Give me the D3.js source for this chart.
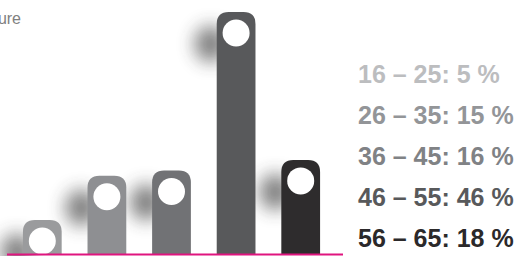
<!DOCTYPE html>
<html>
<head>
<meta charset="utf-8">
<script src="https://cdn.jsdelivr.net/npm/d3@7/dist/d3.min.js"></script>
<style>
  html, body { margin: 0; padding: 0; background: #fff; }
  svg { display: block; }
</style>
</head>
<body>
<div id="chart"></div>
<script>
'use strict';

// age groups and shares (%)
var ageGroups = ['16 – 25', '26 – 35', '36 – 45', '46 – 55', '56 – 65'];
var shares = [5, 15, 16, 46, 18];
var barColors = ['#9a9b9d', '#8e8f92', '#717275', '#58595b', '#2e2c2d'];
var labelColors = ['#bcbdbf', '#939598', '#808285', '#58595b', '#2b292a'];
var title = 'Age structure';

var width = 520, height = 256,
    baseY = 255, minBarHeight = 35, cornerR = 12, holeR = 13.5;

var svg = d3.select('#chart')
    .append('svg')
    .attr('width', width)
    .attr('height', height);

var defs = svg.append('defs');
defs.append('filter')
    .attr('id', 'blur')
    .attr('x', '-100%').attr('y', '-100%')
    .attr('width', '300%').attr('height', '300%')
    .append('feGaussianBlur')
    .attr('stdDeviation', 9);

var data = ageGroups.map(function (g, i) {
    return {group: g, value: shares[i], color: barColors[i], labelColor: labelColors[i]};
});

var x = d3.scaleBand()
    .domain(ageGroups)
    .range([10, 333])
    .paddingInner(0.4)
    .paddingOuter(0.2);

var y = d3.scaleLinear()
    .domain([0, d3.max(shares)])
    .range([baseY, 12]);

function barTop(d) {
    return Math.min(y(d.value), baseY - minBarHeight);
}

function barPath(d) {
    var x0 = x(d.group), w = x.bandwidth(), t = barTop(d), r = cornerR;
    return 'M' + x0 + ',' + baseY +
        'V' + (t + r) +
        'Q' + x0 + ',' + t + ' ' + (x0 + r) + ',' + t +
        'H' + (x0 + w - r) +
        'Q' + (x0 + w) + ',' + t + ' ' + (x0 + w) + ',' + (t + r) +
        'V' + baseY + 'Z';
}

// title (cut off at the left edge, as in the source)
svg.append('text')
    .attr('x', 21)
    .attr('y', 24)
    .attr('text-anchor', 'end')
    .attr('font-family', 'Liberation Sans, Arial, sans-serif')
    .attr('font-size', 16)
    .attr('fill', '#808080')
    .text(title);

// soft shadows behind bar tops
svg.append('g')
    .selectAll('ellipse')
    .data(data)
    .enter().append('ellipse')
    .attr('cx', function (d) { return x(d.group) - 6; })
    .attr('cy', function (d) { return barTop(d) + 32; })
    .attr('rx', 16)
    .attr('ry', 18)
    .attr('fill', '#3a3a3a')
    .attr('opacity', 0.65)
    .attr('filter', 'url(#blur)');

var bars = svg.append('g')
    .selectAll('g')
    .data(data)
    .enter().append('g');

bars.append('path')
    .attr('d', barPath)
    .attr('fill', function (d) { return d.color; });

bars.append('circle')
    .attr('cx', function (d) { return x(d.group) + x.bandwidth() / 2; })
    .attr('cy', function (d) { return barTop(d) + 21; })
    .attr('r', holeR)
    .attr('fill', '#fff');

// baseline
svg.append('line')
    .attr('x1', 7)
    .attr('x2', 343)
    .attr('y1', 254.5)
    .attr('y2', 254.5)
    .attr('stroke', '#e0147f')
    .attr('stroke-width', 2);

// legend
svg.append('g')
    .selectAll('text')
    .data(data)
    .enter().append('text')
    .attr('x', 358)
    .attr('y', function (d, i) { return 83 + i * 41; })
    .attr('font-family', 'Liberation Sans, Arial, sans-serif')
    .attr('font-weight', 'bold')
    .attr('font-size', 25)
    .attr('fill', function (d) { return d.labelColor; })
    .text(function (d) { return d.group + ': ' + d.value + ' %'; });
</script>
</body>
</html>
